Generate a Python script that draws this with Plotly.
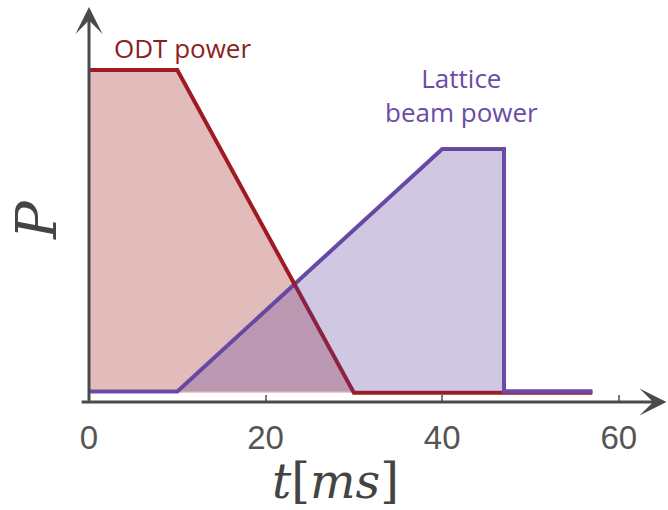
import plotly.graph_objects as go

# ---- data ----
odt_t = [0, 10, 30, 57]
odt_p = [1.0, 1.0, 0.028, 0.028]
lat_t = [0, 10, 40, 47, 47, 57]
lat_p = [0.032, 0.032, 0.762, 0.762, 0.032, 0.032]
x_ticks = [0, 20, 40, 60]
x_tick_text = ["0", "20", "40", "60"]

RED = "#9e1b23"
PURPLE = "#6a4ca6"
AXIS = "#4a4a4a"

fig = go.Figure()
# red fill
fig.add_trace(go.Scatter(x=[odt_t[0], odt_t[-1]], y=[odt_p[-1], odt_p[-1]], mode="lines",
                         line=dict(width=0), hoverinfo="skip", showlegend=False))
fig.add_trace(go.Scatter(x=odt_t, y=odt_p, mode="lines", line=dict(width=0),
                         fill="tonexty", fillcolor="rgba(160,30,30,0.30)", showlegend=False))
# purple line (under red line)
fig.add_trace(go.Scatter(x=lat_t, y=lat_p, mode="lines", line=dict(color=PURPLE, width=4),
                         showlegend=False))
# red line
fig.add_trace(go.Scatter(x=odt_t, y=odt_p, mode="lines", line=dict(color=RED, width=4),
                         showlegend=False))
# purple fill
fig.add_trace(go.Scatter(x=[lat_t[0], lat_t[-1]], y=[lat_p[-1], lat_p[-1]], mode="lines",
                         line=dict(width=0), hoverinfo="skip", showlegend=False))
fig.add_trace(go.Scatter(x=lat_t, y=lat_p, mode="lines", line=dict(width=0),
                         fill="tonexty", fillcolor="rgba(87,59,151,0.28)", showlegend=False))
# purple tail on top
tail = lat_t.index(47)
fig.add_trace(go.Scatter(x=lat_t[tail:], y=lat_p[tail:], mode="lines",
                         line=dict(color=PURPLE, width=4), showlegend=False))

x0 = (75 - 89) / 8.83
x1 = (668 - 89) / 8.83
fig.update_layout(
    width=668, height=510,
    margin=dict(l=75, r=0, t=5, b=108, autoexpand=False),
    plot_bgcolor="white", paper_bgcolor="white",
    xaxis=dict(range=[x0, x1], showgrid=False, zeroline=False, showline=False,
               tickvals=x_ticks, ticktext=x_tick_text, ticks="inside", ticklen=7,
               tickwidth=1.5, tickcolor="#777", ticklabelstandoff=13, automargin=False,
               tickfont=dict(family="Liberation Sans, Arial", size=33, color="#555")),
    yaxis=dict(range=[0, 397 / 332], showgrid=False, zeroline=False, showline=False,
               showticklabels=False, ticks="", automargin=False),
    annotations=[
        # axes arrows
        dict(x=65.4, y=0, ax=-1.0, ay=0, xref="x", yref="y", axref="x", ayref="y",
             showarrow=True, arrowhead=3, arrowsize=1.5, arrowwidth=3, arrowcolor=AXIS, text=""),
        dict(x=0, y=1.19, ax=0, ay=0, xref="x", yref="y", axref="x", ayref="y",
             showarrow=True, arrowhead=3, arrowsize=1.5, arrowwidth=3, arrowcolor=AXIS, text=""),
        dict(x=10.6, y=1.066, xref="x", yref="y", text="ODT power", showarrow=False,
             font=dict(family="Open Sans", size=26, color="#8b1f1f")),
        dict(x=42.2, y=0.925, xref="x", yref="y", text="Lattice<br>beam power", showarrow=False,
             font=dict(family="Open Sans", size=26, color=PURPLE)),
        dict(x=(335 - 75) / 593, y=-(481 - 402) / 397, xref="paper", yref="paper",
             text="<i>t</i>[<i>ms</i>]", showarrow=False, xanchor="center", yanchor="middle",
             font=dict(family="DejaVu Serif", size=48, color="#444")),
        dict(x=-(75 - 36) / 593, y=(402 - 220) / 397, xref="paper", yref="paper",
             text="<i>P</i>", textangle=-90, showarrow=False, xanchor="center", yanchor="middle",
             font=dict(family="DejaVu Serif", size=56, color="#444")),
    ],
)
fig.write_html("out.html", config={"displayModeBar": False},
               post_script="document.body.style.margin='0';document.body.style.overflow='hidden';")
